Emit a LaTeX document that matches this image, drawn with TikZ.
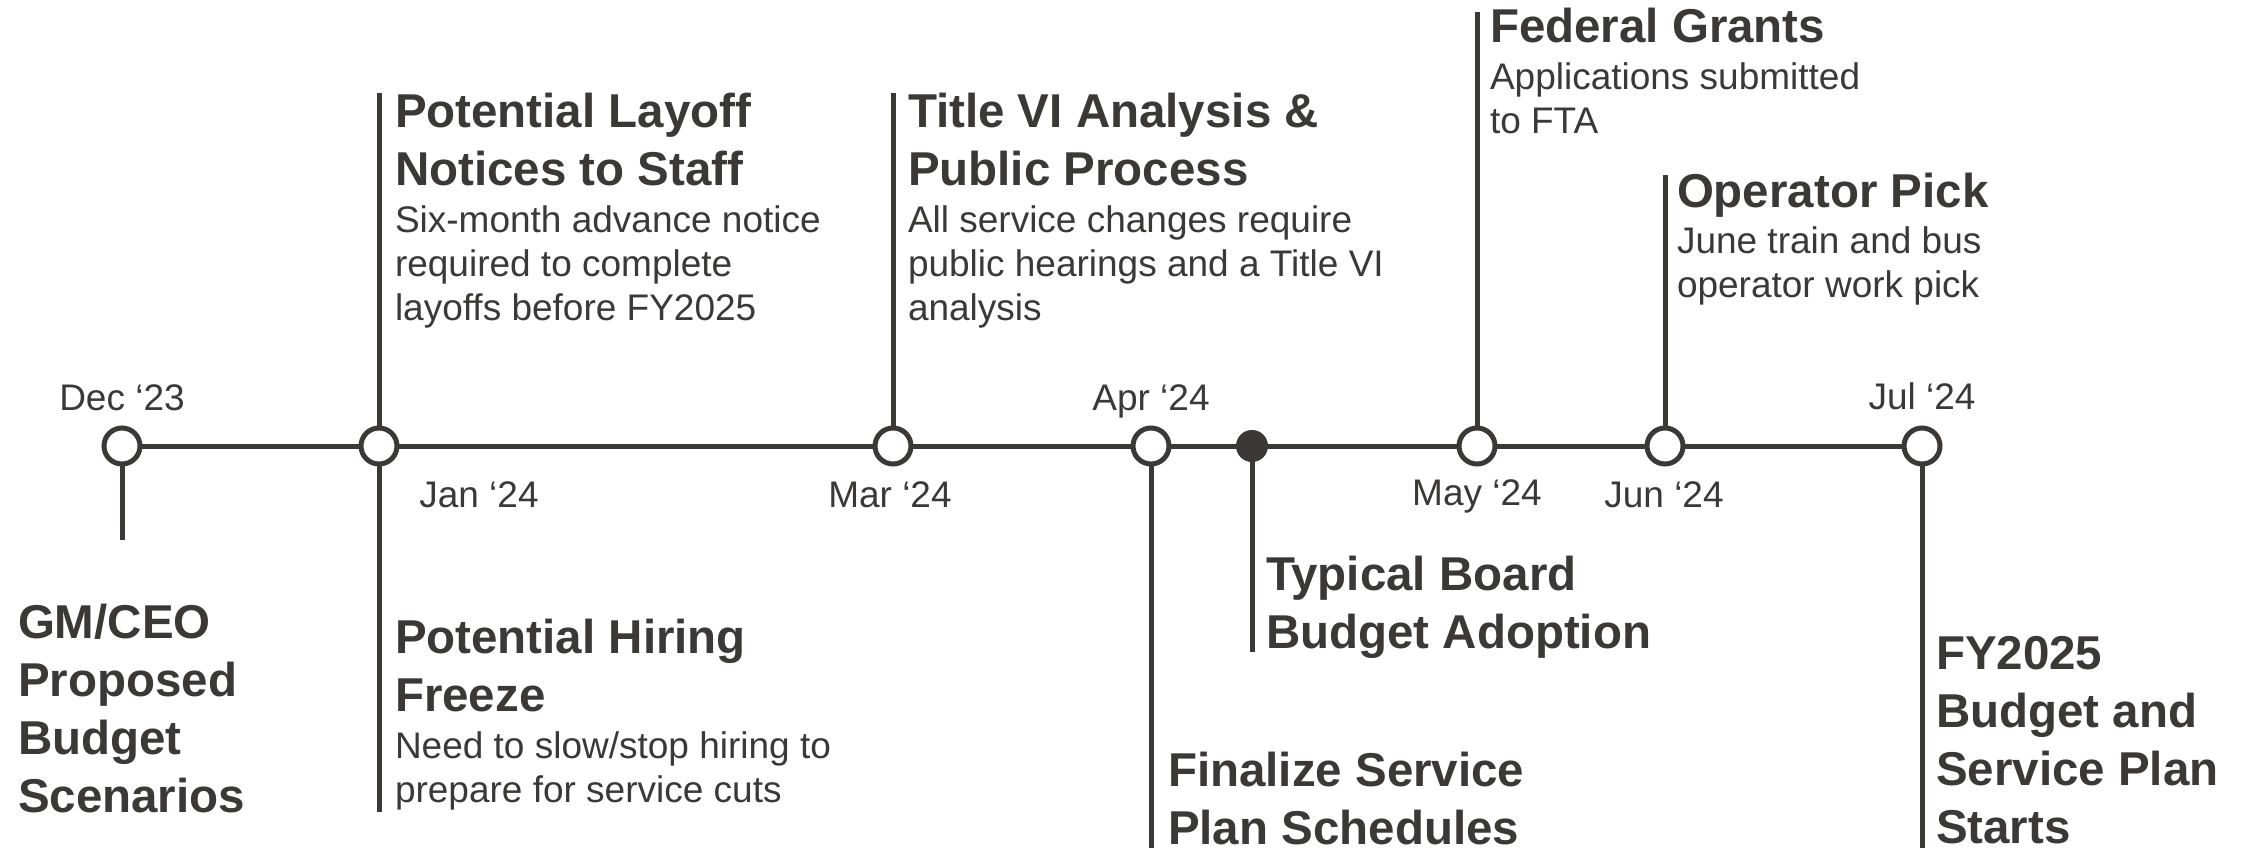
\documentclass[tikz,border=0pt]{standalone}
\usepackage{fontspec}
\setmainfont{Liberation Sans}
\definecolor{ink}{RGB}{59,56,56}
\newcommand{\ttlfont}{\fontsize{47.5}{58}\selectfont\bfseries}
\newcommand{\bdyfont}{\fontsize{37}{44}\selectfont\mdseries}
\newcommand{\evtext}[2]{\parbox[t]{800pt}{\raggedright\ttlfont #1\par\bdyfont\vspace{3pt}#2}}
\newcommand{\evtitle}[1]{\parbox[t]{800pt}{\raggedright\ttlfont #1}}
\begin{document}
\begin{tikzpicture}[x=1pt,y=-1pt,
  every node/.style={text=ink, inner sep=0pt, outer sep=0pt},
  tline/.style={draw=ink, line width=5pt},
  ring/.style={circle, draw=ink, fill=white, line width=5pt, minimum size=36pt, inner sep=0pt},
  dot/.style={circle, draw=ink, fill=ink, line width=1pt, minimum size=31pt, inner sep=0pt},
  datelbl/.style={anchor=base, font=\fontsize{37}{44}\selectfont},
  evt/.style={anchor=base west}]
\useasboundingbox[fill=white] (0,0) rectangle (2244,848);

% milestones
\node[ring] (dec) at (122,446) {};
\node[ring] (jan) at (379,446) {};
\node[ring] (mar) at (893,446) {};
\node[ring] (apr) at (1151,446) {};
\node[dot]  (brd) at (1252,446) {};
\node[ring] (may) at (1477,446) {};
\node[ring] (jun) at (1665,446) {};
\node[ring] (jul) at (1922,446) {};

% axis
\draw[tline] (dec) -- (jan) -- (mar) -- (apr) -- (brd) -- (may) -- (jun) -- (jul);

% stem ends
\coordinate (decEnd) at (122,540);
\coordinate (janTop) at (379,93);
\coordinate (janEnd) at (379,812);
\coordinate (marTop) at (893,93);
\coordinate (aprEnd) at (1151,848);
\coordinate (brdEnd) at (1252,652);
\coordinate (mayTop) at (1477,12);
\coordinate (junTop) at (1665,175);
\coordinate (julEnd) at (1922,848);

\draw[tline] (dec.south) -- (decEnd);
\draw[tline] (jan.north) -- (janTop);
\draw[tline] (jan.south) -- (janEnd);
\draw[tline] (mar.north) -- (marTop);
\draw[tline] (apr.south) -- (aprEnd);
\draw[tline] (brd.south) -- (brdEnd);
\draw[tline] (may.north) -- (mayTop);
\draw[tline] (jun.north) -- (junTop);
\draw[tline] (jul.south) -- (julEnd);

% dates
\node[datelbl] (dDec) at (122,410) {Dec ‘23};
\node[datelbl] (dJan) at (479,507) {Jan ‘24};
\node[datelbl] (dMar) at (890,507) {Mar ‘24};
\node[datelbl] (dApr) at (1151,410) {Apr ‘24};
\node[datelbl] (dMay) at (1477,505) {May ‘24};
\node[datelbl] (dJun) at (1664,507) {Jun ‘24};
\node[datelbl] (dJul) at (1922,409) {Jul ‘24};

% events
\node[evt] (gm) at (18,638) {\evtitle{GM/CEO\\Proposed\\Budget\\Scenarios}};
\node[evt] (layoff) at (395,128) {\evtext{Potential Layoff\\Notices to Staff}{Six-month advance notice\\required to complete\\layoffs before FY2025}};
\node[evt] (hiring) at (395,653) {\evtext{Potential Hiring\\Freeze}{Need to slow/stop hiring to\\prepare for service cuts}};
\node[evt] (title6) at (908,128) {\evtext{Title VI Analysis \&\\Public Process}{All service changes require\\public hearings and a Title VI\\analysis}};
\node[evt] (fed) at (1490,43) {\evtext{Federal Grants}{Applications submitted\\to FTA}};
\node[evt] (op) at (1677,207) {\evtext{Operator Pick}{June train and bus\\operator work pick}};
\node[evt] (board) at (1266,590) {\evtitle{Typical Board\\Budget Adoption}};
\node[evt] (final) at (1168,786) {\evtitle{Finalize Service\\Plan Schedules}};
\node[evt] (fy) at (1936,669) {\evtitle{FY2025\\Budget and\\Service Plan\\Starts}};
\end{tikzpicture}
\end{document}
